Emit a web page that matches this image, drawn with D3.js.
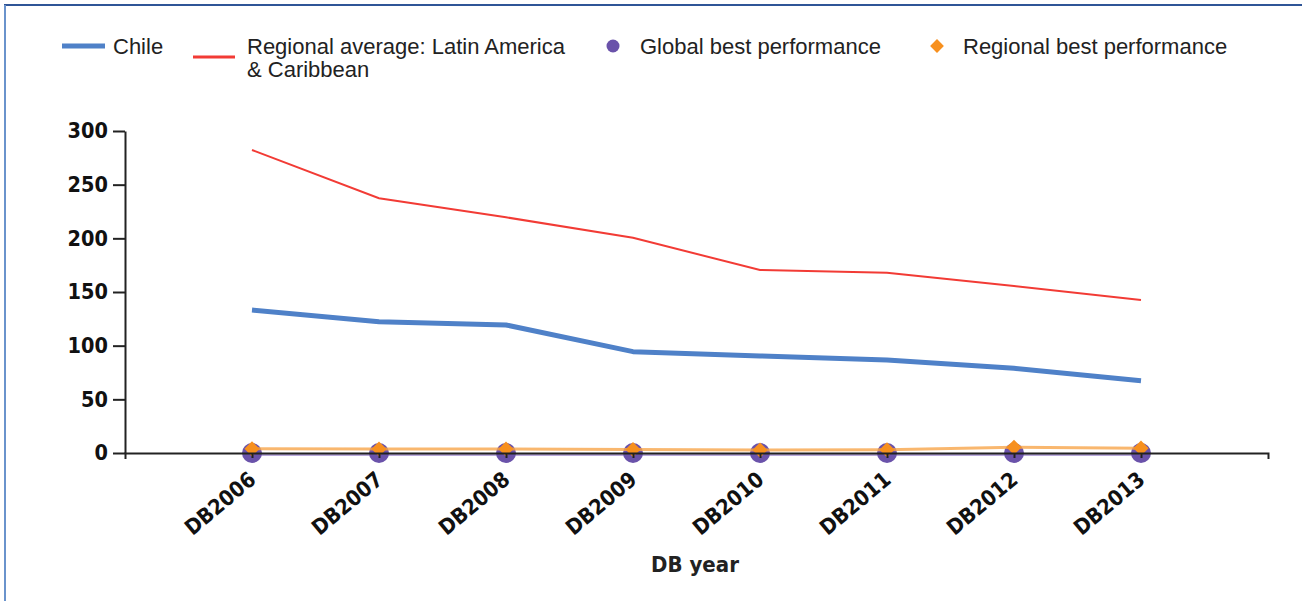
<!DOCTYPE html>
<html>
<head>
<meta charset="utf-8">
<script src="https://cdnjs.cloudflare.com/ajax/libs/d3/7.8.5/d3.min.js"></script>
<style>
  body { margin: 0; background: #fff; }
  .axis text { font-family: "DejaVu Sans Condensed", "DejaVu Sans", sans-serif; font-weight: bold; font-size: 21.5px; fill: #111; }
  .axis path, .axis line { stroke: #222; stroke-width: 2; }
  .legend text { font-family: "Liberation Sans", Arial, sans-serif; font-size: 22px; fill: #222; }
</style>
</head>
<body>
<svg width="1302" height="601"></svg>
<script>
// years on the x axis
var years = ["DB2006", "DB2007", "DB2008", "DB2009", "DB2010", "DB2011", "DB2012", "DB2013"];
// series
var chile = [133.2, 122.3, 119.3, 94.4, 90.4, 86.6, 78.9, 67.4];
var regionalAvg = [282.3, 237.3, 219.6, 200.5, 170.5, 168.0, 155.6, 142.5];
var globalBest = [0, 0, 0, 0, 0, 0, 0, 0];
var regionalBest = [3.9, 3.7, 3.7, 3.3, 2.7, 3.0, 5.3, 4.5];
var yTicks = [0, 50, 100, 150, 200, 250, 300];

var svg = d3.select("svg");

// frame lines (top + left)
svg.append("line").attr("x1", 4).attr("x2", 1302).attr("y1", 5).attr("y2", 5)
  .attr("stroke", "#2f5597").attr("stroke-width", 2);
svg.append("line").attr("x1", 5).attr("x2", 5).attr("y1", 5).attr("y2", 601)
  .attr("stroke", "#6a93cc").attr("stroke-width", 2);

var x = d3.scalePoint().domain(years).range([125, 1268]).padding(1);
var y = d3.scaleLinear().domain([0, 300]).range([453, 131]);

var line = d3.line()
  .x(function(d, i) { return x(years[i]); })
  .y(function(d) { return y(d); });

var plot = svg.append("g");

plot.append("path").datum(regionalAvg)
  .attr("d", line).attr("fill", "none")
  .attr("stroke", "#f23b35").attr("stroke-width", 2);

plot.append("path").datum(chile)
  .attr("d", line).attr("fill", "none")
  .attr("stroke", "#4f81c8").attr("stroke-width", 5).attr("stroke-linejoin", "round");

plot.append("path").datum(globalBest)
  .attr("d", line).attr("fill", "none")
  .attr("stroke", "#b9a8dc").attr("stroke-width", 3)
  .attr("transform", "translate(0,1.5)");

plot.selectAll(".gb").data(globalBest).enter().append("circle")
  .attr("class", "gb")
  .attr("cx", function(d, i) { return x(years[i]); })
  .attr("cy", function(d) { return y(d); })
  .attr("r", 10)
  .attr("fill", "#6a52aa");

plot.append("path").datum(regionalBest)
  .attr("d", line).attr("fill", "none")
  .attr("stroke", "#f7a54a").attr("stroke-width", 3).attr("stroke-opacity", 0.8);

// square turned 45 degrees, like the reference diamond
var diamond = d3.symbol().type(d3.symbolSquare).size(115);
plot.selectAll(".rb").data(regionalBest).enter().append("path")
  .attr("class", "rb")
  .attr("d", diamond)
  .attr("transform", function(d, i) { return "translate(" + x(years[i]) + "," + y(d) + ") rotate(45)"; })
  .attr("fill", "#f7901e");

// axes
var yAxis = d3.axisLeft(y).tickValues(yTicks).tickSize(12).tickSizeOuter(0).tickPadding(5);
svg.append("g").attr("class", "axis")
  .attr("transform", "translate(125,0)")
  .call(yAxis);

var xAxis = d3.axisBottom(x).tickSize(5).tickSizeOuter(6).tickPadding(6);
var gx = svg.append("g").attr("class", "axis")
  .attr("transform", "translate(0,453)")
  .call(xAxis);
gx.selectAll("text")
  .attr("text-anchor", "end")
  .attr("dy", "0.7em")
  .attr("transform", "translate(-12,9) rotate(-40)");

svg.append("text")
  .attr("x", 695).attr("y", 572)
  .attr("text-anchor", "middle")
  .style("font-family", "'DejaVu Sans Condensed', 'DejaVu Sans', sans-serif")
  .style("font-weight", "bold").style("font-size", "22px").style("fill", "#222")
  .text("DB year");

// legend
var lg = svg.append("g").attr("class", "legend");
lg.append("line").attr("x1", 62).attr("x2", 105).attr("y1", 46).attr("y2", 46)
  .attr("stroke", "#4f81c8").attr("stroke-width", 5);
lg.append("text").attr("x", 113).attr("y", 54).text("Chile");

lg.append("line").attr("x1", 193).attr("x2", 235).attr("y1", 57).attr("y2", 57)
  .attr("stroke", "#f23b35").attr("stroke-width", 3);
lg.append("text").attr("x", 247).attr("y", 54).text("Regional average: Latin America");
lg.append("text").attr("x", 247).attr("y", 77).text("& Caribbean");

lg.append("circle").attr("cx", 613).attr("cy", 46).attr("r", 6.5).attr("fill", "#6a52aa");
lg.append("text").attr("x", 640).attr("y", 54).text("Global best performance");

lg.append("path").attr("d", d3.symbol().type(d3.symbolSquare).size(95))
  .attr("transform", "translate(937,46) rotate(45)").attr("fill", "#f7901e");
lg.append("text").attr("x", 963).attr("y", 54).text("Regional best performance");
</script>
</body>
</html>
